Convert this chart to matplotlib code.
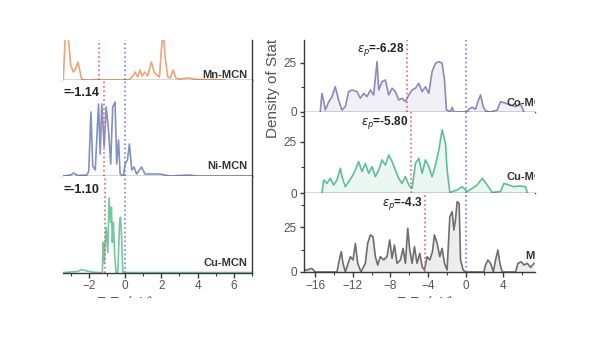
import matplotlib.pyplot as plt
import numpy as np
from matplotlib.ticker import MultipleLocator
from matplotlib.transforms import Bbox

plt.rcParams['font.family'] = ['Liberation Sans', 'DejaVu Sans']

# ---- left panel: d-band DOS (energy eV, intensity a.u.) ----
mn_e = [-3.5, -3.4, -3.3, -3.2, -3.1, -3.0, -2.85, -2.7, -2.6, -2.5, -2.4, -2.2, -1.8, -1.6,
        -1.4, 0.2, 0.4, 0.55, 0.7, 0.82, 0.95, 1.1, 1.25, 1.45, 1.6, 1.75, 1.9, 2.0, 2.1,
        2.2, 2.35, 2.5, 2.65, 2.8, 3.0, 3.5, 4.0, 5.0, 5.5]
mn_v = [0, 2, 42, 45, 38, 15, 8, 12, 18, 10, 1, 0, 0, 0.5,
        0, 0, 3, 8, 3, 10, 4, 8, 4, 18, 8, 5, 3, 30, 50,
        25, 3, 2, 10, 2, 1, 2, 0.5, 0.5, 0]

ni_e = [-3.4, -3.0, -2.83, -2.6, -2.1, -2.0, -1.88, -1.78, -1.64, -1.55, -1.46, -1.37, -1.28,
        -1.15, -1.04, -0.91, -0.79, -0.68, -0.55, -0.46, -0.36, -0.27, -0.09, 0.0, 0.13,
        0.24, 0.37, 0.49, 0.64, 0.91, 1.1, 1.37, 1.92, 2.47, 3.56, 3.93, 7.0]
ni_v = [0, 1, 3, 0.5, 1, 5, 64, 10, 6, 40, 72, 22, 72,
        29, 69, 46, 12, 69, 74, 12, 36, 2, 0, 12, 16,
        32, 6, 9, 2, 9, 2, 2, 2, 0, 1, 0, 0]

cu_e = [-3.4, -2.6, -2.4, -2.2, -2.0, -1.6, -1.25, -1.2, -1.15, -1.05, -0.95, -0.88, -0.8,
        -0.75, -0.7, -0.64, -0.58, -0.5, -0.4, -0.3, -0.25, -0.2, -0.12, 0.5, 7.0]
cu_v = [0, 1, 3, 2, 1, 0, 0, 30, 10, 45, 20, 74, 50,
        65, 30, 50, 20, 0, 0, 50, 55, 40, 0, 0, 0]

# ---- right panel: p-band DOS ----
co_e = [-15.47, -15.29, -15.1, -14.93, -14.58, -14.22, -13.87, -13.51, -13.16, -12.8, -12.44,
        -12.09, -11.56, -11.2, -10.84, -10.49, -10.13, -9.78, -9.42, -9.24, -8.89, -8.53,
        -8.18, -7.82, -7.47, -7.11, -6.76, -6.4, -6.04, -5.69, -5.33, -4.98, -4.62, -4.27,
        -3.91, -3.56, -3.2, -2.84, -2.49, -2.24, -2.03, -1.6, -1.42, -1.24, 0.18, 0.36,
        0.71, 1.07, 1.32, 1.6, 1.88, 2.13, 2.67, 3.38, 3.73, 4.27, 4.8, 5.33, 5.87, 6.22]
co_v = [0, 9.5, 5.3, 1, 5, 7.8, 12.9, 6, 1, 2.7, 10.4,
        11.2, 10.4, 7, 9.5, 7.8, 11.2, 8.7, 25.7, 11.2, 15.5, 16.3,
        8.7, 12.1, 10.4, 6.1, 7, 5.3, 8.7, 11.2, 12.1, 14.6, 10.4, 12.9,
        9.5, 20.6, 24.8, 25.7, 24.8, 16.3, 1, 0.2, 2.4, 0, 0, 1.4,
        2.4, 1.4, 5.3, 8.7, 2.7, 0.5, 0, 1, 5.3, 4.4, 3.6, 2.7, 4, 0]

cup_e = [-15.29, -15.1, -14.76, -14.4, -14.04, -13.69, -13.33, -13.16, -12.8, -12.44, -12.09,
         -11.73, -11.38, -11.02, -10.67, -10.31, -9.96, -9.6, -9.24, -8.89, -8.53, -8.18,
         -7.82, -7.47, -7.11, -6.76, -6.4, -6.04, -5.69, -5.33, -4.98, -4.62, -4.27, -3.91,
         -3.56, -3.2, -2.84, -2.49, -2.13, -1.96, -1.67, -0.89, -0.36, 0.18, 0.71, 1.24,
         1.78, 2.31, 2.84, 3.73, 4.09, 4.62, 5.16, 5.69, 6.4, 6.58]
cup_v = [0, 6.4, 4.7, 7.2, 3.9, 6.4, 12.1, 8, 3.1, 5.6, 8,
         11.3, 15.4, 10.5, 14.5, 9.6, 12.9, 8, 11.3, 16.2, 13.7, 18.6,
         15.4, 11.3, 7.2, 4.7, 8, 3.9, 2.3, 14.5, 17, 9.6, 16.2, 12.9,
         8, 13.7, 21.1, 30.9, 24.3, 11.3, 0.3, 1.5, 3.1, 0.7, 2.3, 3.9,
         7.2, 3.9, 0.3, 0.7, 4.7, 3.9, 3.1, 3.4, 3.1, 0]

m_e = [-17.24, -16.89, -16.36, -16.0, -13.69, -13.44, -13.23, -13.05, -12.8, -12.27, -11.98,
       -11.73, -11.48, -11.13, -10.67, -10.42, -10.13, -9.85, -9.6, -9.35, -9.07, -8.71,
       -8.36, -8.07, -7.82, -7.57, -7.29, -6.93, -6.65, -6.4, -6.15, -5.94, -5.69, -5.44,
       -5.16, -4.87, -4.62, -4.37, -4.09, -3.8, -3.52, -3.31, -3.02, -2.74, -2.49, -2.24,
       -1.96, -1.67, -1.42, -1.24, -1.07, -0.89, -0.68, -0.53, -0.25, 0.0, 1.96, 2.13,
       2.38, 2.67, 2.96, 3.2, 3.45, 3.66, 3.91, 5.33, 5.58, 5.94, 6.22, 6.58, 6.93, 7.29]
m_v = [1.5, 1.1, 2, 0, 0, 6.7, 11.3, 4.8, 0, 8.5, 6.7,
       15.9, 4.8, 0, 4.8, 15.9, 20.6, 19.6, 8.5, 3.9, 8.5, 6.7,
       8.5, 17.8, 7.6, 15, 4.8, 6.7, 13.1, 4.8, 24.3, 12.2, 4.8, 14.1,
       4.8, 10.4, 3, 1.1, 8.5, 6.7, 11.3, 20.6, 15.9, 8.5, 13.1, 4.8,
       1.1, 30.7, 33.5, 23.3, 28.9, 39.1, 38.1, 6.7, 1.1, 0, 0, 3.9,
       6.7, 4.8, 0, 6.7, 12.2, 4.8, 0, 0, 4.8, 5.7, 3.9, 4.8, 2.6, 4.8]

left_names = ['Mn-MCN', 'Ni-MCN', 'Cu-MCN']
left_centers = [-1.42, -1.14, -1.10]
left_center_labels = [None, '=-1.14', '=-1.10']
right_names = ['Co-MCN', 'Cu-MCN', 'MCN']
right_centers = [-6.28, -5.80, -4.3]
right_center_labels = ['$\\varepsilon_p$=-6.28', '$\\varepsilon_p$=-5.80', '$\\varepsilon_p$=-4.3']

W, H = 600, 338
fig = plt.figure(figsize=(6, 3.38), dpi=100)


def px_axes(x0, y0, x1, y1):
    return fig.add_axes([x0 / W, 1 - y1 / H, (x1 - x0) / W, (y1 - y0) / H])


red = '#e06a6a'
blue = '#6f86cf'
spine_c = '#3a3a3a'
tick_c = '#555555'

# left stack
left_rows = [(40, 80), (80, 176), (176, 272.5)]
left_data = [(mn_e, mn_v, '#eda57c', 40), (ni_e, ni_v, '#8391bf', 96), (cu_e, cu_v, '#75c6a2', 96)]
for i, ((y0, y1), (e, v, col, top)) in enumerate(zip(left_rows, left_data)):
    ax = px_axes(63, y0, 252, y1)
    ax.plot(e, v, color=col, lw=1.2)
    ax.set_xlim(-3.42, 7.0)
    ax.set_ylim(0, top)
    ax.axvline(left_centers[i], color=red, ls=':', lw=1.2)
    ax.axvline(0, color=blue, ls=':', lw=1.2)
    for s in ['left', 'top']:
        ax.spines[s].set_visible(False)
    for s in ['right', 'bottom']:
        ax.spines[s].set_color(spine_c)
        ax.spines[s].set_linewidth(1.0)
    ax.set_yticks([])
    ax.text(0.975, 0.12 if i == 0 else 0.1, left_names[i], transform=ax.transAxes,
            ha='right', va='center', fontsize=8, fontweight='bold', color='#333333')
    if left_center_labels[i]:
        ax.text(0.0, 0.86, left_center_labels[i], transform=ax.transAxes, ha='left',
                va='center', fontsize=9, fontweight='bold', color='#222222')
    if i < 2:
        ax.set_xticks([])
    else:
        ax.xaxis.set_major_locator(MultipleLocator(2))
        ax.xaxis.set_minor_locator(MultipleLocator(1))
        ax.tick_params(axis='x', which='major', length=3.5, width=1, color=spine_c,
                       labelsize=8.5, labelcolor=tick_c, pad=2)
        ax.tick_params(axis='x', which='minor', length=2, width=0.8, color=spine_c)

# right stack
right_rows = [(40, 112), (112, 193), (193, 272)]
right_data = [(co_e, co_v, '#9087bd', 36.7), (cup_e, cup_v, '#5fbf94', 39.7), (m_e, m_v, '#6e6e6e', 43.9)]
label_y = [0.13, 0.2, 0.2]
for i, ((y0, y1), (e, v, col, top)) in enumerate(zip(right_rows, right_data)):
    ax = px_axes(304, y0, 535, y1)
    ax.fill_between(e, v, color=col, alpha=0.12, lw=0)
    ax.plot(e, v, color=col, lw=1.2)
    ax.set_xlim(-17.2, 7.4)
    ax.set_ylim(0, top)
    ax.axvline(right_centers[i], color=red, ls=':', lw=1.2)
    ax.axvline(0, color=blue, ls=':', lw=1.2)
    for s in ['right', 'top']:
        ax.spines[s].set_visible(False)
    for s in ['left', 'bottom']:
        ax.spines[s].set_color(spine_c)
        ax.spines[s].set_linewidth(1.0)
    ax.yaxis.set_major_locator(MultipleLocator(25))
    ax.yaxis.set_minor_locator(MultipleLocator(12.5))
    ax.tick_params(axis='y', which='major', length=3, width=1, color=spine_c,
                   labelsize=8.5, labelcolor=tick_c, pad=2)
    ax.tick_params(axis='y', which='minor', length=2, width=0.8, color=spine_c)
    ax.text(9.0, top * label_y[i], right_names[i], ha='right', va='center', fontsize=8,
            fontweight='bold', color='#333333', clip_on=True)
    ax.text(right_centers[i] - 0.3, top * 0.87, right_center_labels[i], ha='right',
            va='center', fontsize=8.5, fontweight='bold', color='#222222')
    if i < 2:
        ax.set_xticks([])
    else:
        ax.xaxis.set_major_locator(MultipleLocator(4))
        ax.xaxis.set_minor_locator(MultipleLocator(2))
        ax.tick_params(axis='x', which='major', length=3.5, width=1, color=spine_c,
                       labelsize=8.5, labelcolor=tick_c, pad=2)
        ax.tick_params(axis='x', which='minor', length=2, width=0.8, color=spine_c)

# axis titles, cropped like the source image
crop = Bbox([[0, H - 298], [W, H - 40]])
yl = fig.text(273 / W, 1 - 138 / H, 'Density of States', rotation=90, ha='center',
              va='bottom', fontsize=11, color='#555555')
yl.set_clip_box(crop)
yl.set_clip_on(True)
for xc in [125, 425]:
    t = fig.text(xc / W, 1 - 294 / H, 'E-E$_f$ (eV)', ha='center', va='top', fontsize=10,
                 color='#555555')
    t.set_clip_box(crop)
    t.set_clip_on(True)

fig.savefig('out.png', dpi=100)
